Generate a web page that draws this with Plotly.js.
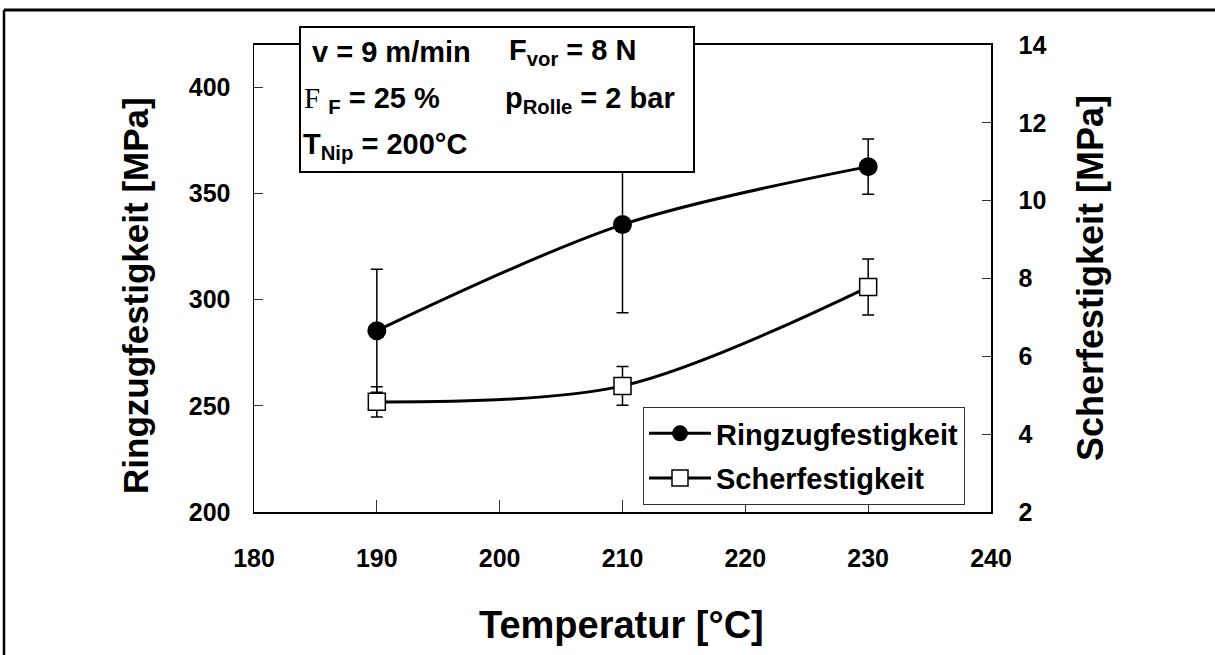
<!DOCTYPE html>
<html>
<head>
<meta charset="utf-8">
<script src="https://cdn.plot.ly/plotly-3.0.1.min.js"></script>
<style>
html, body { margin: 0; padding: 0; background: #fff; }
#chart { width: 1215px; height: 655px; }
</style>
</head>
<body>
<div id="chart"></div>
<script>
// ---- data ----
const temperatures = [190, 210, 230];
const ringzugValues = [285.4, 335.4, 362.7];
const ringzugErrors = [29, 41.5, 13];
const scherValues = [4.83, 5.24, 7.78];
const scherErrors = [0.39, 0.5, 0.72];
const xTicks = [180, 190, 200, 210, 220, 230, 240];
const yTicks = [200, 250, 300, 350, 400];
const y2Ticks = [2, 4, 6, 8, 10, 12, 14];

// ---- geometry helpers (pixel -> paper) ----
const W = 1215, H = 655;
const L = 254, R = 991, T = 45, B = 512;
const px = x => (x - L) / (R - L);
const py = y => (B - y) / (B - T);

const FONT = 'Liberation Sans, Arial, sans-serif';
const bold = (size) => ({family: FONT, size: size, color: '#000', weight: 'bold'});

const traces = [
  {
    x: temperatures, y: ringzugValues, name: 'Ringzugfestigkeit',
    type: 'scatter', mode: 'lines+markers', legendgroup: 'a',
    line: {color: '#000', width: 3, shape: 'spline', smoothing: 0.9},
    marker: {symbol: 'circle', size: 19, color: '#000'},
    error_y: {type: 'data', array: ringzugErrors, visible: true, color: '#000', thickness: 1.5, width: 6}
  },
  {
    x: temperatures, y: scherValues, name: 'Scherfestigkeit', yaxis: 'y2',
    type: 'scatter', mode: 'lines+markers', legendgroup: 'b',
    line: {color: '#000', width: 3, shape: 'spline', smoothing: 0.9},
    marker: {symbol: 'square', size: 17, color: '#fff', line: {color: '#000', width: 1.5}},
    error_y: {type: 'data', array: scherErrors, visible: true, color: '#000', thickness: 1.5, width: 6}
  }
];

const ann = (x, y, text, size, extra) => Object.assign({
  xref: 'paper', yref: 'paper', x: px(x), y: py(y), text: text, showarrow: false,
  xanchor: 'left', yanchor: 'middle', font: bold(size)
}, extra || {});

const annotations = [
  ann(310, 52, 'v = 9 m/min', 29),
  ann(507, 52, 'F<sub>vor</sub> = 8 N', 29),
  ann(302, 100, '<span style="font-family:Liberation Serif;font-weight:normal">F</span> <sub>F</sub> = 25 %', 29),
  ann(503, 100, 'p<sub>Rolle</sub> = 2 bar', 29),
  ann(301, 146, 'T<sub>Nip</sub> = 200°C', 29),
  ann(621, 625, 'Temperatur [°C]', 38, {xanchor: 'center'}),
  ann(135, 296, 'Ringzugfestigkeit [MPa]', 35, {xanchor: 'center', textangle: -90}),
  ann(1090, 278, 'Scherfestigkeit [MPa]', 36, {xanchor: 'center', textangle: -90})
];

const shapes = [
  // info box
  {type: 'rect', xref: 'paper', yref: 'paper', x0: px(300), x1: px(694), y0: py(172), y1: py(27),
   fillcolor: '#fff', line: {color: '#000', width: 2}, layer: 'above'},
  // outer frame (top and left)
  {type: 'line', xref: 'paper', yref: 'paper', x0: px(4), x1: px(1215), y0: py(10), y1: py(10),
   line: {color: '#000', width: 3}, layer: 'above'},
  {type: 'line', xref: 'paper', yref: 'paper', x0: px(4), x1: px(4), y0: py(10), y1: py(655),
   line: {color: '#000', width: 2.5}, layer: 'above'}
];

const layout = {
  width: W, height: H,
  margin: {l: L, r: W - R, t: T, b: H - B, pad: 0},
  paper_bgcolor: '#fff', plot_bgcolor: '#fff',
  showlegend: true,
  legend: {
    x: px(643), y: py(407), xanchor: 'left', yanchor: 'top',
    bgcolor: '#fff', bordercolor: '#333', borderwidth: 1,
    font: bold(29), traceorder: 'grouped', tracegroupgap: 4, itemwidth: 62
  },
  xaxis: {
    range: [180, 240], tickvals: xTicks, ticks: 'inside', ticklen: 12, tickwidth: 1,
    tickcolor: '#333', showline: true, linecolor: '#000', linewidth: 2, mirror: true,
    showgrid: false, zeroline: false, tickfont: bold(25), ticklabelstandoff: 23
  },
  yaxis: {
    range: [200, 420], tickvals: yTicks, ticks: 'inside', ticklen: 9, tickwidth: 1,
    tickcolor: '#333', showline: true, linecolor: '#000', linewidth: 1.5,
    showgrid: false, zeroline: false, tickfont: bold(25), ticklabelstandoff: 17
  },
  yaxis2: {
    range: [2, 14], tickvals: y2Ticks, ticks: 'inside', ticklen: 9, tickwidth: 1,
    tickcolor: '#333', showline: true, linecolor: '#000', linewidth: 1.5,
    overlaying: 'y', side: 'right', showgrid: false, zeroline: false,
    tickfont: bold(25), ticklabelstandoff: 21
  },
  annotations: annotations,
  shapes: shapes
};

Plotly.newPlot('chart', traces, layout, {displayModeBar: false, staticPlot: true});
</script>
</body>
</html>
